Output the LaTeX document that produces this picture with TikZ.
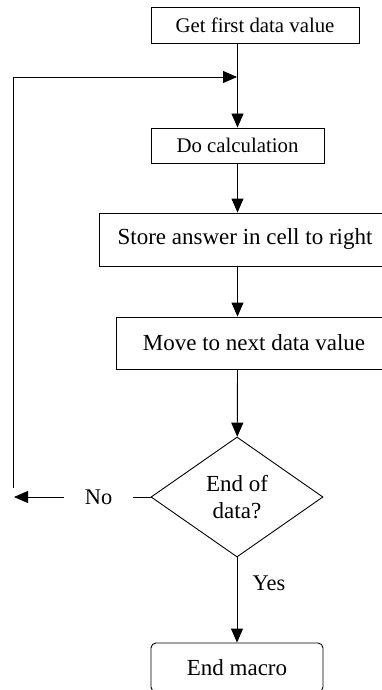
\documentclass[tikz,border=0pt]{standalone}
\usepackage{fontspec}
\setmainfont{Liberation Serif}
\usetikzlibrary{arrows.meta,shapes.geometric}

\tikzset{
  box/.style={draw, line width=0.9pt, inner sep=0pt, font=\fontsize{23}{27}\selectfont},
  small/.style={font=\fontsize{20.8}{25}\selectfont},
  arr/.style={line width=0.9pt, -{Triangle[length=14pt,width=12pt]}},
  lbl/.style={inner sep=0pt, font=\fontsize{22.4}{27}\selectfont}
}

\begin{document}
\begin{tikzpicture}[x=1pt,y=-1pt]
\useasboundingbox (0,0) rectangle (382,690);
% Boxes
\node[box, small, minimum width=208pt, minimum height=36pt] (first) at (255,25) {Get first data value};
\node[box, small, minimum width=173pt, minimum height=35pt] (calc) at (237.5,145.5) {Do calculation};
\node[box, minimum width=292pt, minimum height=53pt] (store) at (245,239.5) {Store answer in cell to right};
\node[box, minimum width=276pt, minimum height=52pt] (next) at (254,343) {Move to next data value};
\node[box, diamond, shape aspect=1.43, minimum width=172pt, minimum height=120pt, align=center] (enddata) at (237,497) {End of\\data?};
\node[box, rounded corners=5pt, minimum width=172pt, minimum height=49pt] (endmacro) at (237,667.5) {End macro};
% Labels
\node[lbl] (yes) at (269,583) {Yes};
% Loop points
\coordinate (join) at (237,77);
\coordinate (back) at (13,488);
\coordinate (noend) at (14,494);
% Arrows
\draw[arr] (first.south -| calc.north) -- (calc);
\draw[arr] (calc) -- (calc |- store.north);
\draw[arr] (store.south -| calc) -- (next.north -| calc);
\draw[arr] (next.south -| calc) -- (enddata);
\draw[arr] (enddata) -- (endmacro);
\draw[arr] (enddata.west) -- node[lbl, pos=.38, fill=white, inner xsep=21pt] {No} (enddata.west -| noend);
\draw[arr] (back) -- (back |- join) -- (join);
\end{tikzpicture}
\end{document}
